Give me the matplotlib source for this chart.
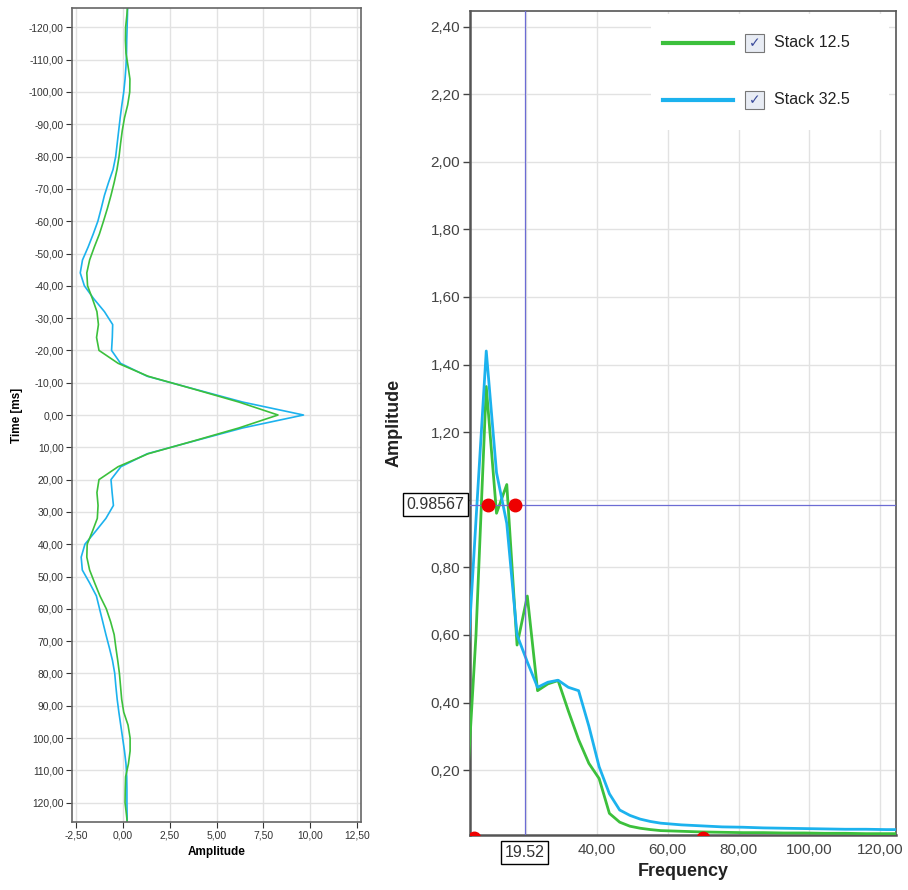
import numpy as np
import matplotlib
matplotlib.use('Agg')
import matplotlib.pyplot as plt
from matplotlib.patches import Rectangle
from matplotlib.lines import Line2D
from matplotlib.ticker import FuncFormatter
from matplotlib.transforms import blended_transform_factory

plt.rcParams['font.family'] = ['Liberation Sans', 'DejaVu Sans']

# --- wavelet traces (left) ---
time_ms = np.arange(-128, 129, 4)
trace_125 = [0.27, 0.22, 0.15, 0.14, 0.17, 0.28, 0.38, 0.37, 0.26, 0.09, -0.03, -0.12, -0.20,
             -0.31, -0.46, -0.63, -0.82, -1.03, -1.25, -1.52, -1.77, -1.92, -1.88, -1.62,
             -1.38, -1.30, -1.40, -1.27, -0.25, 1.35, 3.80, 6.20, 8.28, 6.20, 3.80, 1.35,
             -0.25, -1.27, -1.38, -1.32, -1.36, -1.62, -1.90, -1.92, -1.77, -1.50, -1.22,
             -0.88, -0.65, -0.46, -0.37, -0.27, -0.18, -0.12, -0.06, 0.05, 0.28, 0.39, 0.39,
             0.30, 0.15, 0.13, 0.12, 0.20, 0.27]
trace_325 = [0.26, 0.25, 0.23, 0.21, 0.20, 0.17, 0.12, 0.05, -0.05, -0.14, -0.22, -0.30, -0.38,
             -0.52, -0.76, -0.98, -1.15, -1.33, -1.58, -1.85, -2.15, -2.27, -2.05, -1.55,
             -0.98, -0.54, -0.56, -0.60, -0.12, 1.30, 3.84, 6.40, 9.64, 6.40, 3.84, 1.30,
             -0.10, -0.63, -0.57, -0.50, -0.90, -1.45, -2.02, -2.22, -2.16, -1.77, -1.41,
             -1.24, -1.07, -0.90, -0.72, -0.55, -0.43, -0.37, -0.30, -0.21, -0.11, -0.01,
             0.09, 0.17, 0.21, 0.22, 0.22, 0.23, 0.24]

# --- amplitude spectra (right) ---
freq = [2.9, 5.8, 8.7, 11.6, 14.5, 17.4, 20.3, 23.2, 26.1, 29.0, 31.9, 34.8, 37.7, 40.6,
        43.5, 46.4, 49.3, 52.2, 55.1, 58.0, 63.8, 69.6, 75.4, 81.2, 87.0, 92.8, 98.6,
        104.4, 110.2, 116.0, 121.8, 127.6]
spec_125 = [0.08, 0.60, 1.335, 0.96, 1.045, 0.57, 0.715, 0.435, 0.455, 0.465, 0.375, 0.29,
            0.22, 0.175, 0.072, 0.046, 0.034, 0.028, 0.024, 0.021, 0.019, 0.017, 0.016,
            0.015, 0.015, 0.014, 0.014, 0.013, 0.013, 0.012, 0.012, 0.012]
spec_325 = [0.43, 0.94, 1.44, 1.08, 0.93, 0.60, 0.52, 0.445, 0.46, 0.466, 0.445, 0.435, 0.33,
            0.21, 0.13, 0.082, 0.066, 0.055, 0.048, 0.043, 0.038, 0.035, 0.032, 0.031,
            0.029, 0.028, 0.027, 0.026, 0.025, 0.025, 0.024, 0.024]
labels = ['Stack 12.5', 'Stack 32.5']

cursor_f = 19.52
cursor_a = 0.98567
dot_f = [9.1, 16.7, 5.2, 70.0]
dot_a = [0.98567, 0.98567, 0.0, 0.0]

green = '#3cc03c'
blue = '#1cb2ee'
cross = '#6c6cd4'
grid_c = '#e2e2e2'

def comma(v, pos):
    return ('%.2f' % v).replace('.', ',')

fig = plt.figure(figsize=(9.08, 8.9), dpi=100)

# left panel
ax1 = fig.add_axes([0.0793, 0.0764, 0.3183, 0.9146])
ax1.plot(trace_325, time_ms, color=blue, lw=1.2)
ax1.plot(trace_125, time_ms, color=green, lw=1.2)
ax1.set_xlim(-2.71, 12.71)
ax1.set_ylim(126, -126)
ax1.set_xticks(np.arange(-2.5, 12.6, 2.5))
ax1.set_yticks(np.arange(-120, 121, 10))
ax1.xaxis.set_major_formatter(FuncFormatter(comma))
ax1.yaxis.set_major_formatter(FuncFormatter(comma))
ax1.grid(color=grid_c, lw=1)
ax1.set_axisbelow(True)
ax1.tick_params(labelsize=7.4, colors='#333333', length=4, width=0.8, pad=2)
for s in ax1.spines.values():
    s.set_color('#666666')
    s.set_linewidth(1.2)
ax1.set_xlabel('Amplitude', fontsize=8.5, fontweight='bold', labelpad=4)
ax1.set_ylabel('Time [ms]', fontsize=8.5, fontweight='bold', labelpad=4)

# right panel
ax2 = fig.add_axes([0.5176, 0.0618, 0.4692, 0.9262])
ax2.plot(freq, spec_125, color=green, lw=2.0, zorder=3)
ax2.plot(freq, spec_325, color=blue, lw=2.0, zorder=3)
ax2.set_xlim(4.1, 124.5)
ax2.set_ylim(0.008, 2.447)
ax2.set_xticks([20, 40, 60, 80, 100, 120])
ax2.set_xticklabels(['', '40,00', '60,00', '80,00', '100,00', '120,00'])
yt = np.round(np.arange(0.2, 2.41, 0.2), 2)
ax2.set_yticks(yt)
ax2.set_yticklabels(['' if abs(v - 1.0) < 1e-6 else comma(v, None) for v in yt])
ax2.grid(color=grid_c, lw=1)
ax2.set_axisbelow(True)
ax2.tick_params(axis='y', labelsize=11, colors='#444444', length=5, width=1, pad=2)
ax2.tick_params(axis='x', labelsize=11, colors='#444444', length=0, pad=6)
for s in ax2.spines.values():
    s.set_color('#555555')
    s.set_linewidth(1.2)
ax2.spines['left'].set_linewidth(1.8)
ax2.spines['bottom'].set_linewidth(1.8)
ax2.set_xlabel('Frequency', fontsize=13, fontweight='bold', color='#222222', labelpad=4)
ax2.set_ylabel('Amplitude', fontsize=13, fontweight='bold', color='#222222', labelpad=20)

# cursor
ax2.axvline(cursor_f, color=cross, lw=0.9, zorder=4)
ax2.axhline(cursor_a, color=cross, lw=0.9, zorder=4)
ax2.plot(dot_f, dot_a, 'o', color='#ee0000', ms=9, zorder=5, clip_on=True)

tr_y = blended_transform_factory(ax2.transAxes, ax2.transData)
tr_x = blended_transform_factory(ax2.transData, ax2.transAxes)
ax2.text(-0.013, cursor_a, '%.5f' % cursor_a, transform=tr_y, ha='right', va='center',
         fontsize=11.5, color='#333333',
         bbox=dict(boxstyle='square,pad=0.25', fc='white', ec='black', lw=1))
ax2.text(cursor_f, -0.021, '%.2f' % cursor_f, transform=tr_x, ha='center', va='center',
         fontsize=11.5, color='#333333',
         bbox=dict(boxstyle='square,pad=0.25', fc='white', ec='black', lw=1))

# legend with check boxes
ax2.add_patch(Rectangle((0.426, 0.855), 0.558, 0.141, transform=ax2.transAxes,
                        fc='white', ec='none', zorder=6))
for i, (lab, col) in enumerate(zip(labels, [green, blue])):
    yy = 0.961 - i * 0.069
    ax2.add_line(Line2D([0.452, 0.618], [yy, yy], transform=ax2.transAxes, color=col,
                        lw=3, zorder=7))
    ax2.add_patch(Rectangle((0.646, yy - 0.011), 0.045, 0.022, transform=ax2.transAxes,
                            fc='#e8ecf4', ec='#777777', lw=0.8, zorder=7))
    ax2.text(0.6685, yy, '\u2713', transform=ax2.transAxes, ha='center', va='center',
             fontsize=10, color='#3a4a9a', family='DejaVu Sans', zorder=8)
    ax2.text(0.714, yy, lab, transform=ax2.transAxes, ha='left', va='center',
             fontsize=11.5, color='#222222', zorder=8)

plt.savefig('out.png', dpi=100)
